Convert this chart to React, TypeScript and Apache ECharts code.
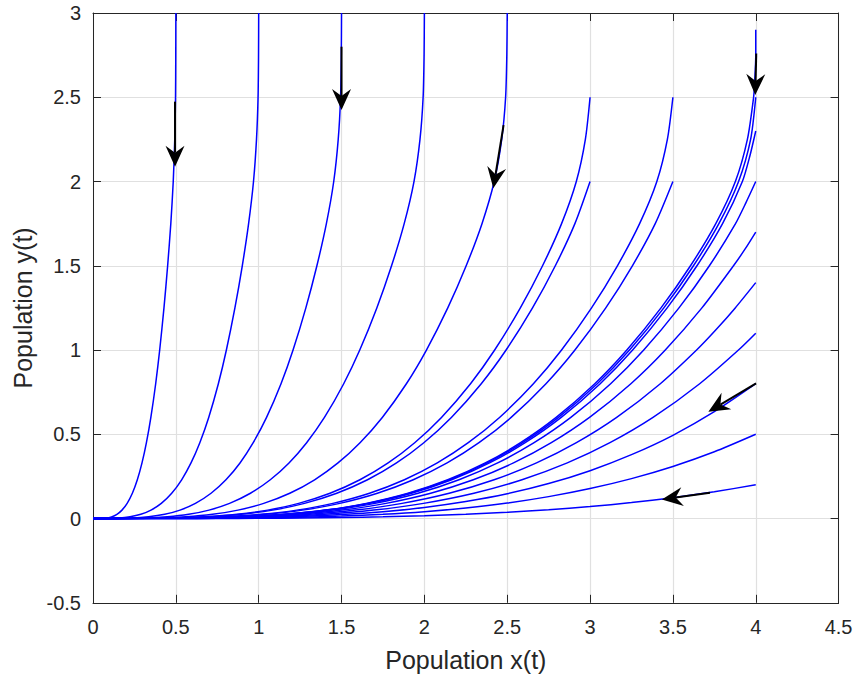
import React, { useEffect, useRef } from "react";
import * as echarts from "echarts";

// ---------- data ----------
const xTicks = [0, 0.5, 1, 1.5, 2, 2.5, 3, 3.5, 4, 4.5];
const yTicks = [-0.5, 0, 0.5, 1, 1.5, 2, 2.5, 3];
const xName = "Population x(t)";
const yName = "Population y(t)";

// trajectories, [x, y] from start point toward the origin
const curveA = [[0.5,3],[0.4995,2.75],[0.4981,2.5],[0.4934,2.25],[0.4843,2],[0.4696,1.75],[0.4505,1.5],[0.4283,1.25],[0.4025,1],[0.3783,0.8],[0.3492,0.6],[0.3224,0.45],[0.2958,0.33],[0.2675,0.23],[0.2375,0.15],[0.2061,0.09],[0.175,0.05],[0.1443,0.025],[0.1119,0.01],[0.0801,0.003],[0,0]];
const curveB = [[1,3],[0.9991,2.75],[0.9962,2.5],[0.9868,2.25],[0.9687,2],[0.9391,1.75],[0.901,1.5],[0.8565,1.25],[0.805,1],[0.7566,0.8],[0.6984,0.6],[0.6447,0.45],[0.5915,0.33],[0.535,0.23],[0.475,0.15],[0.4122,0.09],[0.35,0.05],[0.2887,0.025],[0.2238,0.01],[0.1601,0.003],[0,0]];
const curveC = [[1.5,3],[1.4985,2.75],[1.4942,2.5],[1.48,2.25],[1.4529,2],[1.4086,1.75],[1.3513,1.5],[1.2847,1.25],[1.2074,1],[1.1348,0.8],[1.0475,0.6],[0.967,0.45],[0.8872,0.33],[0.8024,0.23],[0.7125,0.15],[0.6182,0.09],[0.525,0.05],[0.433,0.025],[0.3357,0.01],[0.2402,0.003],[0,0]];
const curveD = [[2,3],[1.9982,2.75],[1.9924,2.5],[1.9735,2.25],[1.9373,2],[1.8782,1.75],[1.8019,1.5],[1.713,1.25],[1.61,1],[1.5132,0.8],[1.3968,0.6],[1.2894,0.45],[1.183,0.33],[1.07,0.23],[0.9501,0.15],[0.8243,0.09],[0.7,0.05],[0.5773,0.025],[0.4476,0.01],[0.3202,0.003],[0,0]];
const curveE = [[2.5,3],[2.4976,2.75],[2.4903,2.5],[2.4668,2.25],[2.4215,2],[2.3477,1.75],[2.2523,1.5],[2.1412,1.25],[2.0124,1],[1.8915,0.8],[1.746,0.6],[1.6117,0.45],[1.4787,0.33],[1.3374,0.23],[1.1875,0.15],[1.0303,0.09],[0.875,0.05],[0.7216,0.025],[0.5594,0.01],[0.4003,0.003],[0,0]];
const curveF = [[3,2.5],[2.9716,2.25],[2.917,2],[2.8281,1.75],[2.7132,1.5],[2.5793,1.25],[2.4242,1],[2.2785,0.8],[2.1032,0.6],[1.9415,0.45],[1.7813,0.33],[1.6111,0.23],[1.4305,0.15],[1.2412,0.09],[1.054,0.05],[0.8693,0.025],[0.6739,0.01],[0.4822,0.003],[0,0]];
const curveG = [[3,2],[2.9085,1.75],[2.7903,1.5],[2.6527,1.25],[2.4931,1],[2.3433,0.8],[2.163,0.6],[1.9967,0.45],[1.8319,0.33],[1.6569,0.23],[1.4712,0.15],[1.2765,0.09],[1.084,0.05],[0.894,0.025],[0.6931,0.01],[0.4959,0.003],[0,0]];
const curveH = [[3.5,2.5],[3.4666,2.25],[3.403,2],[3.2991,1.75],[3.1651,1.5],[3.009,1.25],[2.828,1],[2.658,0.8],[2.4536,0.6],[2.265,0.45],[2.078,0.33],[1.8795,0.23],[1.6688,0.15],[1.4479,0.09],[1.2296,0.05],[1.0141,0.025],[0.7862,0.01],[0.5625,0.003],[0,0]];
const curveI = [[3.5,2],[3.3933,1.75],[3.2554,1.5],[3.0949,1.25],[2.9087,1],[2.7339,0.8],[2.5236,0.6],[2.3296,0.45],[2.1373,0.33],[1.9331,0.23],[1.7164,0.15],[1.4893,0.09],[1.2647,0.05],[1.0431,0.025],[0.8086,0.01],[0.5785,0.003],[0,0]];
const curveJ = [[4,2.9],[4,2.75],[3.994,2.6],[3.987,2.5],[3.9495,2.25],[3.877,2],[3.7588,1.75],[3.6061,1.5],[3.4282,1.25],[3.222,1],[3.0284,0.8],[2.7954,0.6],[2.5805,0.45],[2.3675,0.33],[2.1413,0.23],[1.9013,0.15],[1.6497,0.09],[1.4009,0.05],[1.1554,0.025],[0.8957,0.01],[0.6409,0.003],[0,0]];
const curveK = [[4,2.5],[3.969,2.25],[3.8963,2],[3.7775,1.75],[3.624,1.5],[3.4452,1.25],[3.238,1],[3.0434,0.8],[2.8093,0.6],[2.5933,0.45],[2.3793,0.33],[2.152,0.23],[1.9107,0.15],[1.6579,0.09],[1.4079,0.05],[1.1611,0.025],[0.9002,0.01],[0.644,0.003],[0,0]];
const curveL = [[4,2.3],[3.964,2.15],[3.9192,2],[3.7996,1.75],[3.6452,1.5],[3.4654,1.25],[3.257,1],[3.0612,0.8],[2.8258,0.6],[2.6085,0.45],[2.3932,0.33],[2.1646,0.23],[1.922,0.15],[1.6676,0.09],[1.4161,0.05],[1.168,0.025],[0.9054,0.01],[0.6478,0.003],[0,0]];
const curveM = [[4,2],[3.941,1.875],[3.8778,1.75],[3.7202,1.5],[3.5367,1.25],[3.324,1],[3.1242,0.8],[2.8839,0.6],[2.6622,0.45],[2.4425,0.33],[2.2091,0.23],[1.9615,0.15],[1.7019,0.09],[1.4453,0.05],[1.192,0.025],[0.9241,0.01],[0.6611,0.003],[0,0]];
const curveN = [[4,1.7],[3.936,1.6],[3.8657,1.5],[3.6751,1.25],[3.454,1],[3.2464,0.8],[2.9967,0.6],[2.7663,0.45],[2.538,0.33],[2.2955,0.23],[2.0382,0.15],[1.7684,0.09],[1.5018,0.05],[1.2386,0.025],[0.9602,0.01],[0.687,0.003],[0,0]];
const curveO = [[4,1.4],[3.8762,1.25],[3.7596,1.12],[3.643,1],[3.424,0.8],[3.1607,0.6],[2.9177,0.45],[2.6769,0.33],[2.4211,0.23],[2.1497,0.15],[1.8652,0.09],[1.584,0.05],[1.3064,0.025],[1.0128,0.01],[0.7246,0.003],[0,0]];
const curveP = [[4,1.1],[3.8957,1],[3.6616,0.8],[3.3799,0.6],[3.1201,0.45],[2.8626,0.33],[2.5891,0.23],[2.2989,0.15],[1.9946,0.09],[1.6939,0.05],[1.397,0.025],[1.083,0.01],[0.7749,0.003],[0,0]];
const curveQ = [[4,0.8],[3.75,0.634],[3.5,0.494],[3.25,0.379],[3,0.284],[2.75,0.2075],[2.5,0.147],[2.25,0.101],[2,0.066],[1.75,0.041],[1.5,0.0234],[1.25,0.0121],[1,0.0054],[0.75,0.0019],[0.5,0.0004],[0,0]];
const curveR = [[4,0.5],[3.75,0.396],[3.5,0.309],[3.25,0.237],[3,0.178],[2.75,0.13],[2.5,0.092],[2.25,0.063],[2,0.041],[1.75,0.0255],[1.5,0.0147],[1.25,0.0076],[1,0.0034],[0.75,0.0012],[0.5,0.0003],[0,0]];
const curveS = [[4,0.2],[3.75,0.159],[3.5,0.124],[3.25,0.095],[3,0.071],[2.75,0.052],[2.5,0.037],[2.25,0.025],[2,0.0165],[1.75,0.0102],[1.5,0.0059],[1.25,0.003],[1,0.0014],[0.75,0.0005],[0.5,0.0001],[0,0]];

// direction arrows: [xStart, yStart, xTip, yTip]
const arrows = [
  [0.495, 2.474, 0.495, 2.088],
  [1.5, 2.8, 1.5, 2.424],
  [2.478, 2.335, 2.416, 1.96],
  [4.003, 2.76, 3.997, 2.513],
  [4.002, 0.802, 3.714, 0.634],
  [3.724, 0.153, 3.433, 0.113],
];

const curves = [curveA, curveB, curveC, curveD, curveE, curveF, curveG, curveH, curveI, curveJ, curveK, curveL, curveM, curveN, curveO, curveP, curveQ, curveR, curveS];

const FONT = "'Liberation Sans', Arial, Helvetica, sans-serif";
const AX = "#262626";

export default function App() {
  const ref = useRef<HTMLDivElement>(null);
  useEffect(() => {
    if (!ref.current) return;
    const chart = echarts.init(ref.current, undefined, { renderer: "svg" });
    const axisCommon = {
      type: "value" as const,
      axisLine: { show: true, onZero: false, lineStyle: { color: AX, width: 1 } },
      axisTick: { show: true, inside: true, length: 8, lineStyle: { color: AX, width: 1 } },
    };
    const option: any = {
      animation: false,
      backgroundColor: "#ffffff",
      textStyle: { fontFamily: FONT },
      grid: { left: 93, top: 13, right: 19.4, bottom: 79.2, containLabel: false },
      xAxis: [
        {
          ...axisCommon,
          position: "bottom",
          min: xTicks[0],
          max: xTicks[xTicks.length - 1],
          interval: 0.5,
          axisLabel: { show: true, fontSize: 20, color: AX, margin: 14, fontFamily: FONT, formatter: (v: number) => String(v) },
          splitLine: { show: true, lineStyle: { color: "#e0e0e0", width: 1.2 } },
          name: xName,
          nameLocation: "middle",
          nameGap: 45,
          nameTextStyle: { fontSize: 25, color: AX, fontFamily: FONT },
        },
        {
          ...axisCommon,
          position: "top",
          min: xTicks[0],
          max: xTicks[xTicks.length - 1],
          interval: 0.5,
          axisLabel: { show: false },
          splitLine: { show: false },
        },
      ],
      yAxis: [
        {
          ...axisCommon,
          position: "left",
          min: yTicks[0],
          max: yTicks[yTicks.length - 1],
          interval: 0.5,
          axisLabel: { show: true, fontSize: 20, color: AX, margin: 12, fontFamily: FONT, formatter: (v: number) => String(v) },
          splitLine: { show: true, lineStyle: { color: "#e0e0e0", width: 1.2 } },
          name: yName,
          nameLocation: "middle",
          nameGap: 58,
          nameTextStyle: { fontSize: 25, color: AX, fontFamily: FONT },
        },
        {
          ...axisCommon,
          position: "right",
          min: yTicks[0],
          max: yTicks[yTicks.length - 1],
          interval: 0.5,
          axisLabel: { show: false },
          splitLine: { show: false },
        },
      ],
      series: [
        ...curves.map((c, i) => ({
          type: "line",
          name: "traj" + i,
          data: c,
          xAxisIndex: 0,
          yAxisIndex: 0,
          showSymbol: false,
          symbol: "none",
          smooth: 0.25,
          silent: true,
          lineStyle: { color: "#0000ff", width: 1.5 },
          z: 3,
        })),
        {
          type: "custom",
          name: "arrows",
          xAxisIndex: 0,
          yAxisIndex: 0,
          data: arrows,
          encode: { x: [0, 2], y: [1, 3] },
          silent: true,
          z: 5,
          renderItem: (params: any, api: any) => {
            const p0 = api.coord([api.value(0), api.value(1)]);
            const p1 = api.coord([api.value(2), api.value(3)]);
            const dx = p1[0] - p0[0];
            const dy = p1[1] - p0[1];
            const len = Math.hypot(dx, dy) || 1;
            const ux = dx / len;
            const uy = dy / len;
            const nx = -uy;
            const ny = ux;
            const L = 21;
            const W = 9.5;
            const N = 14;
            const back = [p1[0] - ux * L, p1[1] - uy * L];
            const notch = [p1[0] - ux * N, p1[1] - uy * N];
            const b1 = [back[0] + nx * W, back[1] + ny * W];
            const b2 = [back[0] - nx * W, back[1] - ny * W];
            return {
              type: "group",
              children: [
                {
                  type: "line",
                  shape: { x1: p0[0], y1: p0[1], x2: notch[0], y2: notch[1] },
                  style: { stroke: "#000000", lineWidth: 2 },
                },
                {
                  type: "polygon",
                  shape: { points: [p1, b1, notch, b2] },
                  style: { fill: "#000000" },
                },
              ],
            };
          },
        },
      ],
    };
    chart.setOption(option);
    return () => chart.dispose();
  }, []);
  return (
    <div
      ref={ref}
      style={{ position: "absolute", left: 0, top: 0, width: 858, height: 682, background: "#fff" }}
    />
  );
}
